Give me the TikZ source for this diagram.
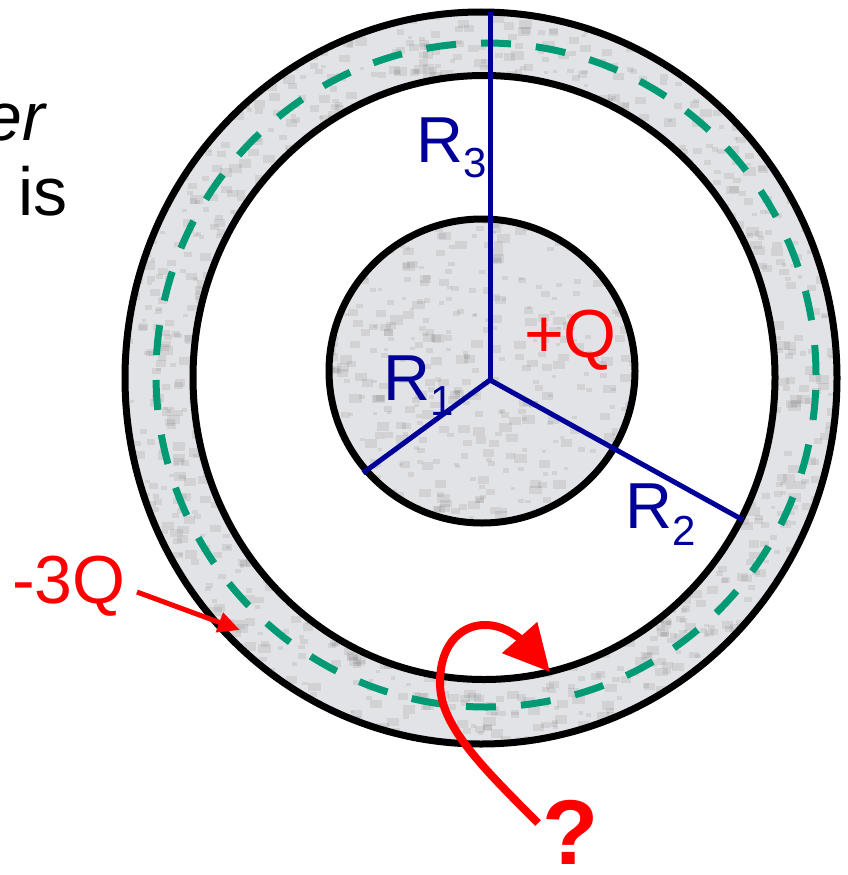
\documentclass[tikz,border=0pt]{standalone}
\usepackage{fontspec}
\setmainfont{Liberation Sans}
\usetikzlibrary{arrows.meta}
\definecolor{navyline}{HTML}{000099}
\definecolor{redtxt}{HTML}{FF0000}
\definecolor{dashgreen}{HTML}{009B74}
\definecolor{marble}{HTML}{E2E3E6}
\begin{document}
\begin{tikzpicture}[x=1pt,y=-1pt,
  outline/.style={draw=black,line width=7pt},
  radius line/.style={draw=navyline,line width=5pt},
  bluelbl/.style={text=navyline,inner sep=0pt,font=\fontsize{65}{70}\selectfont},
  redlbl/.style={text=redtxt,inner sep=0pt,font=\fontsize{68}{72}\selectfont},
  blacklbl/.style={text=black,inner sep=0pt,font=\fontsize{68}{72}\selectfont},
  redarrow/.style={draw=redtxt,line width=8pt},
  blotch/.style={fill=black,opacity=0.07}]
\useasboundingbox (0,0) rectangle (848,875);
\pgfmathsetseed{7}
% shell
\fill[marble,even odd rule] (481,378) ellipse[x radius=356pt,y radius=366pt]
   (484,377.5) ellipse[x radius=291pt,y radius=302pt];
\begin{scope}[even odd rule]
  \clip (481,378) ellipse[x radius=356pt,y radius=366pt]
     (484,377.5) ellipse[x radius=291pt,y radius=302pt];
  \foreach \i in {1,...,900}{
    \pgfmathsetmacro\ang{rnd*360}
    \pgfmathsetmacro\rad{285+85*rnd}
    \pgfmathsetmacro\sz{4+9*rnd}
    \fill[blotch] ({482+\rad*cos(\ang)},{378+\rad*sin(\ang)}) rectangle ++(\sz,{0.7*\sz});
  }
\end{scope}
% dashed middle line
\draw[dashgreen,line width=7pt,dash pattern=on 30pt off 25pt]
  (486,375) ellipse[x radius=330pt,y radius=332pt];
% shell outlines
\draw[outline] (481,378) ellipse[x radius=356pt,y radius=366pt];
\draw[outline] (484,377.5) ellipse[x radius=291pt,y radius=302pt];
% inner sphere
\fill[marble] (482,371) ellipse[x radius=153pt,y radius=152pt];
\begin{scope}
  \clip (482,371) ellipse[x radius=153pt,y radius=152pt];
  \foreach \i in {1,...,450}{
    \pgfmathsetmacro\px{325+315*rnd}
    \pgfmathsetmacro\py{215+312*rnd}
    \pgfmathsetmacro\sz{4+9*rnd}
    \fill[blotch] (\px,\py) rectangle ++(\sz,{0.7*\sz});
  }
\end{scope}
\draw[outline] (482,371) ellipse[x radius=153pt,y radius=152pt];
% radii
\coordinate (O) at (490,380);
\coordinate (E1) at (363,473);
\coordinate (E2) at (743,520);
\coordinate (E3) at (490,12);
\draw[radius line] (O) -- (E1);
\draw[radius line] (O) -- (E2);
\draw[radius line] (O) -- (E3);
% labels
\node[bluelbl,anchor=base west] (r3) at (416,162) {R\raisebox{-15pt}{\fontsize{42}{42}\selectfont 3}};
\node[bluelbl,anchor=base west] (r1) at (383,400) {R\raisebox{-15pt}{\fontsize{42}{42}\selectfont 1}};
\node[bluelbl,anchor=base west] (r2) at (625,528) {R\raisebox{-17pt}{\fontsize{42}{42}\selectfont 2}};
\node[redlbl,anchor=base west] (pq) at (524,357) {+Q};
\node[redlbl,anchor=base west] (mq) at (12,603) {-3Q};
\node[blacklbl,anchor=base east] (er) at (45,140) {\itshape er};
\node[blacklbl,anchor=base west] (is) at (18,215) {is};
\node[text=redtxt,inner sep=0pt,anchor=base west,font=\fontsize{92}{100}\selectfont\bfseries] (qm) at (542,864) {?};
% arrows
\coordinate (mqstart) at (137,592);
\coordinate (mqtip) at (240,630);
\draw[draw=redtxt,line width=5pt,-{Triangle[length=22pt,width=20pt]},redtxt]
  (mqstart) -- (mqtip);
\coordinate (curlstart) at (538,823);
\coordinate (curltip) at (550,672);
\draw[redarrow,-{Triangle[length=46pt,width=45pt]},redtxt]
  (curlstart) .. controls (480,765) and (440,725) .. (440,683)
  .. controls (440,640) and (465,624) .. (487,625)
  .. controls (515,626) and (535,655) .. (curltip);
\end{tikzpicture}
\end{document}
